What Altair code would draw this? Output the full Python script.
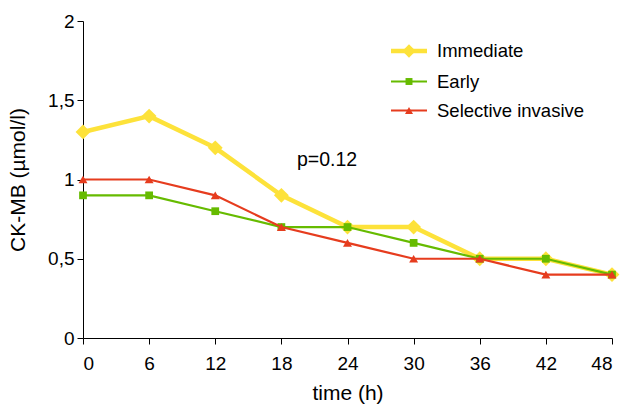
import altair as alt
import pandas as pd

# ---- data ----
time_h = [0, 6, 12, 18, 24, 30, 36, 42, 48]
immediate = [1.3, 1.4, 1.2, 0.9, 0.7, 0.7, 0.5, 0.5, 0.4]
early = [0.9, 0.9, 0.8, 0.7, 0.7, 0.6, 0.5, 0.5, 0.4]
selective = [1.0, 1.0, 0.9, 0.7, 0.6, 0.5, 0.5, 0.4, 0.4]
series_names = ["Immediate", "Early", "Selective invasive"]
x_ticks = [0, 6, 12, 18, 24, 30, 36, 42, 48]
y_ticks = [0, 0.5, 1, 1.5, 2]
annotation = "p=0.12"

# ---- styles ----
colors = ["#FDE23A", "#66BB00", "#E63C1E"]
line_widths = [4.5, 2.2, 2.2]
shapes = ["diamond", "square", "triangle-up"]
sizes = [220, 60, 80]
FONT = "Liberation Sans"
W, H = 529, 317

rows = []
for name, vals in zip(series_names, [immediate, early, selective]):
    for t, v in zip(time_h, vals):
        rows.append({"time": t, "value": v, "series": name})
df = pd.DataFrame(rows)

x_enc = alt.X(
    "time:Q",
    scale=alt.Scale(domain=[0, 48], nice=False, zero=False),
    axis=alt.Axis(values=x_ticks, title="time (h)", labelPadding=10, titlePadding=9),
)
y_enc = alt.Y(
    "value:Q",
    scale=alt.Scale(domain=[0, 2], nice=False),
    axis=alt.Axis(
        values=y_ticks,
        labelExpr="replace(toString(datum.value), '.', ',')",
        title="CK-MB (µmol/l)",
        labelPadding=3,
        titlePadding=19,
    ),
)

layers = []
for i, name in enumerate(series_names):
    base = alt.Chart(df).transform_filter(alt.datum.series == name)
    layers.append(
        base.mark_line(color=colors[i], strokeWidth=line_widths[i]).encode(x=x_enc, y=y_enc)
    )
    layers.append(
        base.mark_point(
            shape=shapes[i], size=sizes[i], filled=True, color=colors[i], opacity=1
        ).encode(x=x_enc, y=y_enc)
    )

# ---- legend (manual) ----
leg_rows_y = [30, 60.5, 89.5]
leg_x0, leg_x1, leg_xm, leg_xt = 308, 344, 326, 354
for i, name in enumerate(series_names):
    one = alt.Chart(pd.DataFrame({"series": [name]}))
    layers.append(
        one.mark_rule(color=colors[i], strokeWidth=line_widths[i]).encode(
            x=alt.value(leg_x0), x2=alt.value(leg_x1), y=alt.value(leg_rows_y[i])
        )
    )
    layers.append(
        one.mark_point(
            shape=shapes[i], size=sizes[i] * 0.8, filled=True, color=colors[i], opacity=1
        ).encode(x=alt.value(leg_xm), y=alt.value(leg_rows_y[i]))
    )
    layers.append(
        one.mark_text(
            align="left", baseline="middle", font=FONT, fontSize=18.5, color="black"
        ).encode(x=alt.value(leg_xt), y=alt.value(leg_rows_y[i]), text="series:N")
    )

ann = alt.Chart(pd.DataFrame({"label": [annotation]})).mark_text(
    align="center", baseline="middle", font=FONT, fontSize=19.5, color="black"
).encode(x=alt.value(244), y=alt.value(139), text="label:N")
layers.append(ann)

chart = (
    alt.layer(*layers)
    .properties(
        width=W,
        height=H,
        autosize=alt.AutoSizeParams(type="none"),
        padding={"left": 83, "top": 21, "right": 12, "bottom": 67},
        background="white",
    )
    .configure_view(strokeWidth=0)
    .configure_axis(
        grid=False,
        domainColor="black",
        domainWidth=1,
        tickColor="black",
        tickWidth=1,
        tickSize=6,
        labelColor="black",
        titleColor="black",
        labelFont=FONT,
        titleFont=FONT,
        labelFontSize=19,
        titleFontSize=21,
        titleFontWeight="normal",
    )
)

chart.save("out.html", embed_options={"renderer": "svg", "actions": False})
